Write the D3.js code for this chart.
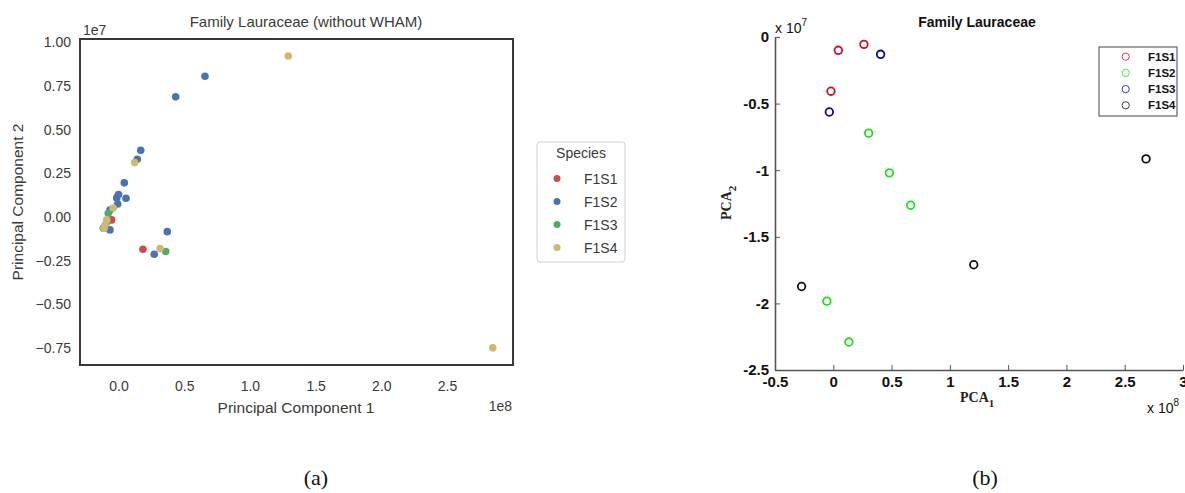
<!DOCTYPE html>
<html>
<head>
<meta charset="utf-8">
<script src="https://cdn.jsdelivr.net/npm/d3@7"></script>
<style>
  body { margin: 0; background: #fff; }
  svg { display: block; }
</style>
</head>
<body>
<script>
var Width = 1185;
var Height = 493;

// ---- panel (a): seaborn scatter, PC1 in 1e8, PC2 in 1e7
var speciesA = ["F1S1", "F1S2", "F1S3", "F1S4"];
var colorsA = ["#C44E52", "#4C72B0", "#55A868", "#CCB974"];
var a_F1S1 = [[-0.052, -0.017], [0.186, -0.185]];
var a_F1S2 = [[0.658, 0.805], [0.435, 0.687], [0.169, 0.381], [0.143, 0.330], [0.044, 0.195],
	[0.000, 0.128], [-0.014, 0.109], [0.057, 0.107], [-0.006, 0.074], [-0.065, 0.040],
	[-0.065, -0.074], [0.371, -0.084], [0.272, -0.213]];
var a_F1S3 = [[-0.078, 0.021], [-0.090, -0.030], [-0.116, -0.065], [0.359, -0.198]];
var a_F1S4 = [[1.292, 0.921], [0.123, 0.311], [-0.040, 0.051], [-0.090, -0.017], [-0.103, -0.046],
	[-0.110, -0.065], [0.316, -0.181], [2.848, -0.749]];
var seriesA = [a_F1S1, a_F1S2, a_F1S3, a_F1S4];
var xTicksA = [0, 0.5, 1.0, 1.5, 2.0, 2.5];
var yTicksA = [1.00, 0.75, 0.50, 0.25, 0.00, -0.25, -0.50, -0.75];

// ---- panel (b): MATLAB scatter, PCA1 in 1e8, PCA2 in 1e7
var speciesB = ["F1S1", "F1S2", "F1S3", "F1S4"];
var colorsB = ["#c8102e", "#22dd22", "#0a0a96", "#111111"];
var b_F1S1 = [[0.043, -0.10], [0.263, -0.055], [-0.020, -0.407]];
var b_F1S2 = [[0.303, -0.722], [0.481, -1.02], [0.664, -1.263], [-0.055, -1.983], [0.134, -2.29]];
var b_F1S3 = [[0.406, -0.13], [-0.034, -0.563]];
var b_F1S4 = [[1.205, -1.71], [-0.272, -1.873], [2.683, -0.915]];
var seriesB = [b_F1S1, b_F1S2, b_F1S3, b_F1S4];
var xTicksB = [-0.5, 0, 0.5, 1, 1.5, 2, 2.5, 3];
var yTicksB = [0, -0.5, -1, -1.5, -2, -2.5];

var svg = d3.select("body").append("svg")
	.attr("width", Width)
	.attr("height", Height);

svg.append("rect").attr("width", Width).attr("height", Height).attr("fill", "#fff");

function drawA() {
	var sans = "'Liberation Sans', Arial, sans-serif";
	var x = d3.scaleLinear().domain([-0.293, 3.002]).range([80, 513]);
	var y = d3.scaleLinear().domain([-0.847, 1.018]).range([365, 39]);
	var g = svg.append("g");

	var xAxis = g.append("g")
		.attr("transform", "translate(0,365)")
		.call(d3.axisBottom(x).tickValues(xTicksA).tickSize(0).tickPadding(16).tickFormat(d3.format(".1f")));
	var yAxis = g.append("g")
		.attr("transform", "translate(80,0)")
		.call(d3.axisLeft(y).tickValues(yTicksA).tickSize(0).tickPadding(9).tickFormat(d3.format(".2f")));
	[xAxis, yAxis].forEach(function (ax) {
		ax.select(".domain").remove();
		ax.selectAll("text").attr("font-family", sans).attr("font-size", 14).attr("fill", "#3a3a3a");
	});

	seriesA.forEach(function (pts, i) {
		g.append("g").selectAll("circle")
			.data(pts)
			.enter()
			.append("circle")
			.attr("cx", function (d) { return x(d[0]); })
			.attr("cy", function (d) { return y(d[1]); })
			.attr("r", 3.8)
			.attr("fill", colorsA[i]);
	});

	g.append("rect")
		.attr("x", 80).attr("y", 39)
		.attr("width", 433).attr("height", 326)
		.attr("fill", "none").attr("stroke", "#383838").attr("stroke-width", 2);

	g.append("text").attr("x", 306).attr("y", 27).attr("text-anchor", "middle")
		.attr("font-family", sans).attr("font-size", 15).attr("fill", "#3a3a3a")
		.text("Family Lauraceae (without WHAM)");
	g.append("text").attr("x", 83).attr("y", 35)
		.attr("font-family", sans).attr("font-size", 14).attr("fill", "#3a3a3a").text("1e7");
	g.append("text").attr("x", 512).attr("y", 411).attr("text-anchor", "end")
		.attr("font-family", sans).attr("font-size", 14).attr("fill", "#3a3a3a").text("1e8");
	g.append("text").attr("x", 296).attr("y", 413).attr("text-anchor", "middle")
		.attr("font-family", sans).attr("font-size", 15.5).attr("fill", "#3a3a3a").text("Principal Component 1");
	g.append("text").attr("transform", "translate(23,202) rotate(-90)").attr("text-anchor", "middle")
		.attr("font-family", sans).attr("font-size", 15.5).attr("fill", "#3a3a3a").text("Principal Component 2");

	// legend
	var lg = g.append("g");
	lg.append("rect").attr("x", 537).attr("y", 142).attr("width", 88).attr("height", 120).attr("rx", 3)
		.attr("fill", "#fff").attr("stroke", "#d0d0d0");
	lg.append("text").attr("x", 581).attr("y", 158).attr("text-anchor", "middle")
		.attr("font-family", sans).attr("font-size", 14).attr("fill", "#3a3a3a").text("Species");
	speciesA.forEach(function (s, i) {
		var cy = 178.5 + i * 23;
		lg.append("circle").attr("cx", 557).attr("cy", cy).attr("r", 3.5).attr("fill", colorsA[i]);
		lg.append("text").attr("x", 584).attr("y", cy + 5)
			.attr("font-family", sans).attr("font-size", 14).attr("fill", "#3a3a3a").text(s);
	});
}

function drawB() {
	var sans = "'Liberation Sans', Arial, sans-serif";
	var serif = "'Liberation Serif', 'Times New Roman', serif";
	var x = d3.scaleLinear().domain([-0.5, 3]).range([775, 1183]);
	var y = d3.scaleLinear().domain([-2.5, 0]).range([370, 37]);
	var g = svg.append("g");

	var xAxis = g.append("g")
		.attr("transform", "translate(0,370)")
		.call(d3.axisBottom(x).tickValues(xTicksB).tickSizeInner(-5).tickSizeOuter(0).tickPadding(6)
			.tickFormat(function (d) { return String(d); }));
	var yAxis = g.append("g")
		.attr("transform", "translate(775,0)")
		.call(d3.axisLeft(y).tickValues(yTicksB).tickSizeInner(-5).tickSizeOuter(0).tickPadding(6)
			.tickFormat(function (d) { return String(d); }));
	[xAxis, yAxis].forEach(function (ax) {
		ax.select(".domain").attr("stroke", "#555").attr("stroke-width", 1.6);
		ax.selectAll("line").attr("stroke", "#555");
		ax.selectAll("text").attr("font-family", sans).attr("font-size", 15).attr("font-weight", "bold").attr("fill", "#111");
	});

	seriesB.forEach(function (pts, i) {
		g.append("g").selectAll("circle")
			.data(pts)
			.enter()
			.append("circle")
			.attr("cx", function (d) { return x(d[0]); })
			.attr("cy", function (d) { return y(d[1]); })
			.attr("r", 3.8)
			.attr("fill", "none")
			.attr("stroke", colorsB[i])
			.attr("stroke-width", 1.8);
	});

	g.append("text").attr("x", 977).attr("y", 27).attr("text-anchor", "middle")
		.attr("font-family", sans).attr("font-size", 14).attr("font-weight", "bold").attr("fill", "#111")
		.text("Family Lauraceae");

	var e7 = g.append("text").attr("x", 775).attr("y", 33)
		.attr("font-family", sans).attr("font-size", 14).attr("fill", "#111");
	e7.append("tspan").text("x 10");
	e7.append("tspan").attr("dy", -7).attr("font-size", 10).text("7");

	var e8 = g.append("text").attr("x", 1147).attr("y", 413)
		.attr("font-family", sans).attr("font-size", 14).attr("fill", "#111");
	e8.append("tspan").text("x 10");
	e8.append("tspan").attr("dy", -7).attr("font-size", 10).text("8");

	var p1 = g.append("text").attr("x", 960).attr("y", 402)
		.attr("font-family", serif).attr("font-size", 14).attr("font-weight", "bold").attr("fill", "#222");
	p1.append("tspan").text("PCA");
	p1.append("tspan").attr("dy", 5).attr("font-size", 11).text("1");

	var p2 = g.append("text").attr("transform", "translate(731,220) rotate(-90)")
		.attr("font-family", serif).attr("font-size", 14).attr("font-weight", "bold").attr("fill", "#222");
	p2.append("tspan").text("PCA");
	p2.append("tspan").attr("dy", 5).attr("font-size", 11).text("2");

	// legend
	var lg = g.append("g");
	lg.append("rect").attr("x", 1099).attr("y", 47).attr("width", 78).attr("height", 69)
		.attr("fill", "#fff").attr("stroke", "#444").attr("stroke-width", 1);
	speciesB.forEach(function (s, i) {
		var cy = 56.7 + i * 16.2;
		lg.append("circle").attr("cx", 1125.7).attr("cy", cy).attr("r", 3.6)
			.attr("fill", "none").attr("stroke", colorsB[i]).attr("stroke-width", 1).attr("opacity", 0.8);
		lg.append("text").attr("x", 1148).attr("y", cy + 4)
			.attr("font-family", sans).attr("font-size", 11.5).attr("font-weight", "bold").attr("fill", "#111").text(s);
	});
}

drawA();
drawB();

var capSerif = "'Liberation Serif', 'Times New Roman', serif";
svg.append("text").attr("x", 316).attr("y", 485).attr("text-anchor", "middle")
	.attr("font-family", capSerif).attr("font-size", 22).attr("fill", "#111").text("(a)");
svg.append("text").attr("x", 985).attr("y", 485).attr("text-anchor", "middle")
	.attr("font-family", capSerif).attr("font-size", 22).attr("fill", "#111").text("(b)");
</script>
</body>
</html>
